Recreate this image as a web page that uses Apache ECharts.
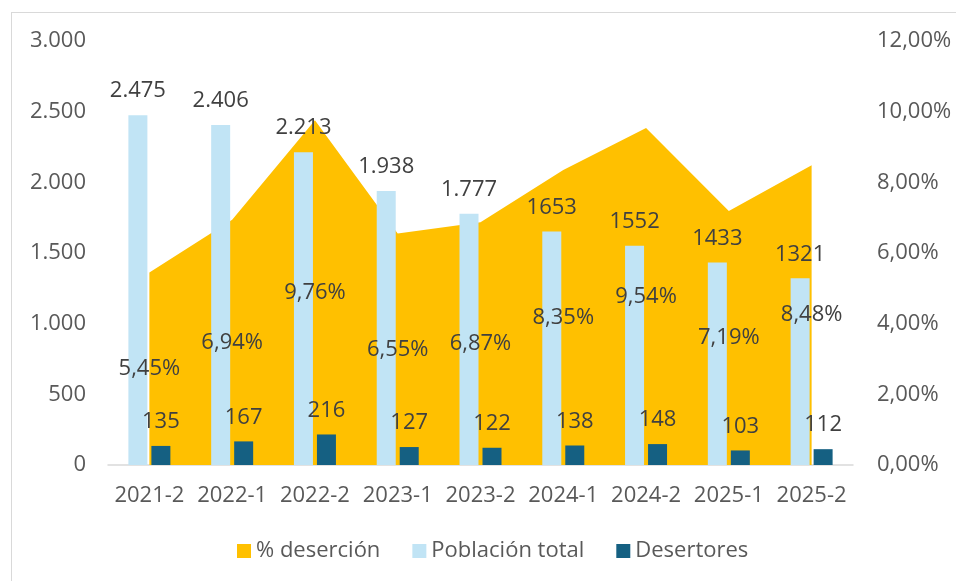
<!DOCTYPE html>
<html>
<head>
<meta charset="utf-8">
<script src="https://cdn.jsdelivr.net/npm/echarts@6/dist/echarts.min.js"></script>
<style>
  html, body { margin: 0; padding: 0; background: #fff; }
  #wrap { position: relative; width: 956px; height: 581px; overflow: hidden; }
  #frame { position: absolute; left: 11px; top: 12px; width: 980px; height: 600px; border: 1px solid #d9d9d9; }
  #chart { position: absolute; left: 0; top: 0; width: 956px; height: 581px; }
</style>
</head>
<body>
<div id="wrap">
  <div id="frame"></div>
  <div id="chart"></div>
</div>
<script>
var periodos = ['2021-2', '2022-1', '2022-2', '2023-1', '2023-2', '2024-1', '2024-2', '2025-1', '2025-2']
var desercion = [5.45, 6.94, 9.76, 6.55, 6.87, 8.35, 9.54, 7.19, 8.48]
var poblacion = [2475, 2406, 2213, 1938, 1777, 1653, 1552, 1433, 1321]
var poblacionLabels = ['2.475', '2.406', '2.213', '1.938', '1.777', '1653', '1552', '1433', '1321']
var desertores = [135, 167, 216, 127, 122, 138, 148, 103, 112]

var font = '"Open Sans", sans-serif'
var labelColor = '#404040'
var axisColor = '#595959'

var chart = echarts.init(document.getElementById('chart'))
chart.setOption({
  animation: false,
  textStyle: { fontFamily: font },
  grid: { left: 108, right: 103, top: 41, bottom: 116 },
  legend: {
    data: ['% deserción', 'Población total', 'Desertores'],
    left: 232,
    top: 535,
    icon: 'rect',
    itemWidth: 14,
    itemHeight: 14,
    itemGap: 32,
    textStyle: { fontSize: 22, color: axisColor, fontFamily: font }
  },
  xAxis: {
    type: 'category',
    data: periodos,
    axisLine: { lineStyle: { color: '#d9d9d9', width: 1.5 } },
    axisTick: { show: false },
    axisLabel: { fontSize: 22, color: axisColor, margin: 20, interval: 0 }
  },
  yAxis: [
    {
      type: 'value',
      min: 0, max: 3000, interval: 500,
      splitLine: { show: false },
      axisLabel: {
        fontSize: 22, color: axisColor, margin: 22,
        formatter: function (v) { return v >= 1000 ? (v / 1000).toFixed(3) : String(v) }
      }
    },
    {
      type: 'value',
      min: 0, max: 12, interval: 2,
      splitLine: { show: false },
      axisLabel: {
        fontSize: 22, color: axisColor, margin: 24, align: 'left',
        formatter: function (v) { return v.toFixed(2).replace('.', ',') + '%' }
      }
    }
  ],
  series: [
    {
      name: '% deserción',
      type: 'line',
      yAxisIndex: 1,
      data: desercion,
      symbol: 'none',
      lineStyle: { width: 0 },
      areaStyle: { color: '#FFC000', opacity: 1 },
      itemStyle: { color: '#FFC000' },
      z: 1
    },
    {
      name: 'Población total',
      type: 'bar',
      data: poblacion,
      barWidth: 19,
      barGap: '21%',
      itemStyle: { color: '#C1E4F5' },
      label: {
        show: true, position: 'top', distance: 13,
        fontSize: 22, color: labelColor,
        formatter: function (p) { return poblacionLabels[p.dataIndex] }
      },
      z: 3
    },
    {
      name: 'Desertores',
      type: 'bar',
      data: desertores,
      barWidth: 19,
      itemStyle: { color: '#156082' },
      label: {
        show: true, position: 'top', distance: 13,
        fontSize: 22, color: labelColor
      },
      z: 3
    },
    {
      name: 'etiquetas',
      type: 'scatter',
      yAxisIndex: 1,
      symbolSize: 0,
      itemStyle: { opacity: 1 },
      data: desercion.map(function (v) { return v / 2 }),
      label: {
        show: true, position: 'inside', opacity: 1,
        fontSize: 22, color: labelColor,
        formatter: function (p) { return desercion[p.dataIndex].toFixed(2).replace('.', ',') + '%' }
      },
      z: 4
    }
  ]
})
</script>
</body>
</html>
